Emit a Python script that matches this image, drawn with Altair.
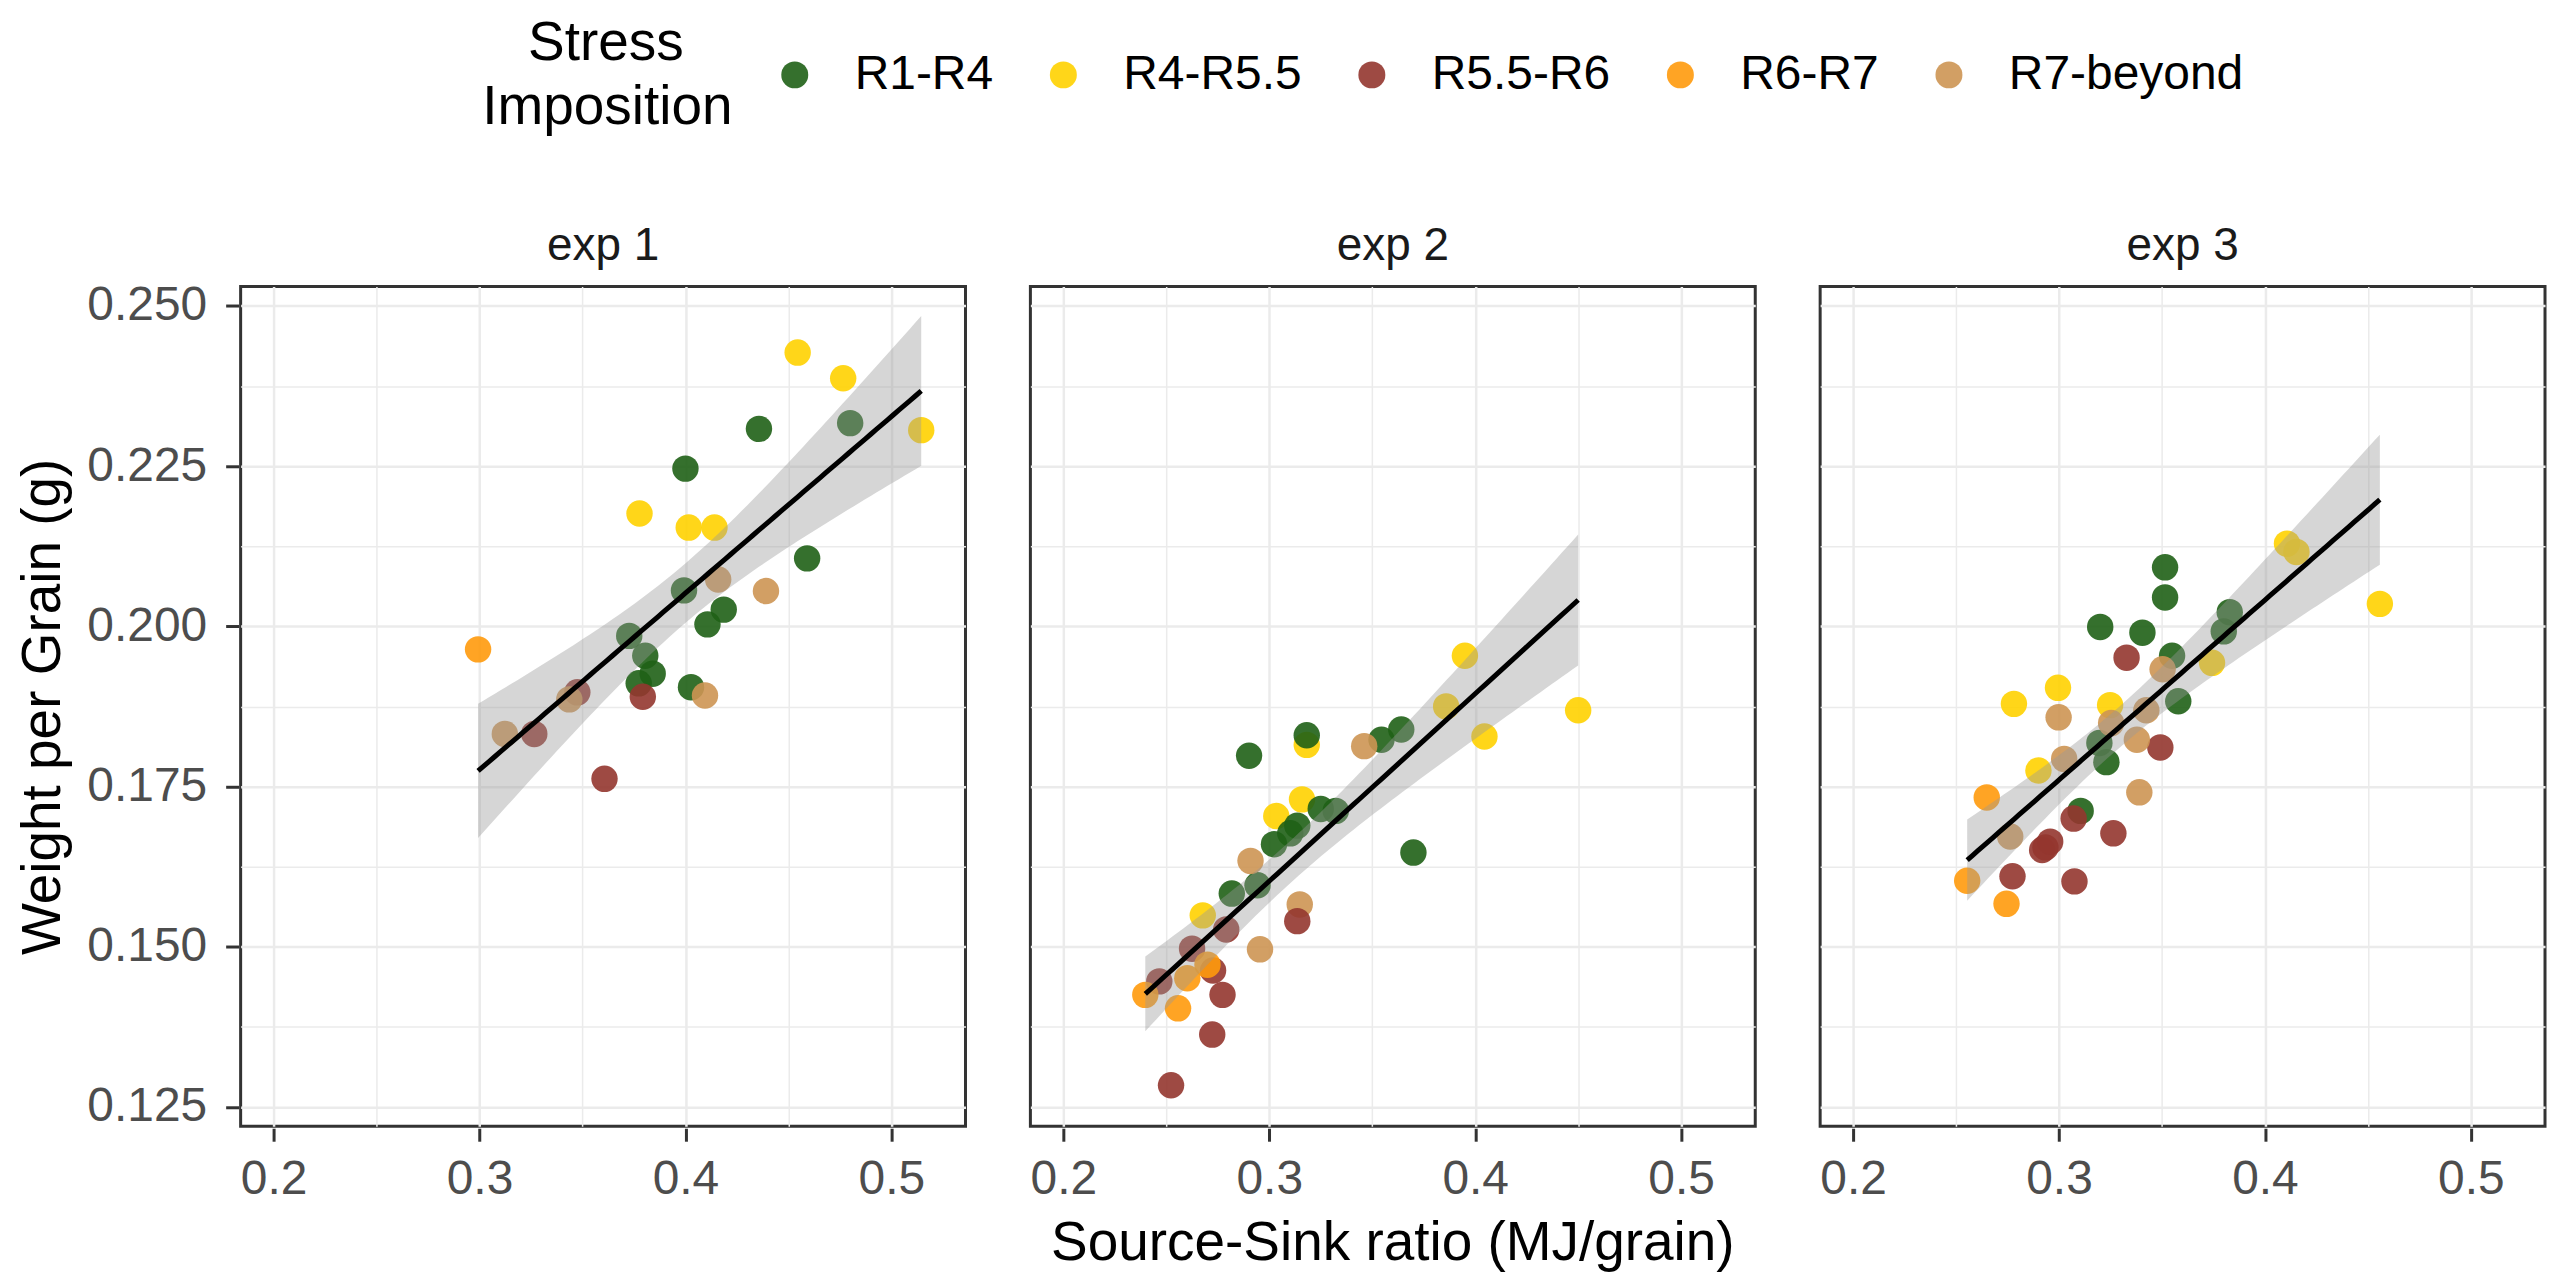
import math
import numpy as np
import pandas as pd
import altair as alt

STAGES = ["R1-R4", "R4-R5.5", "R5.5-R6", "R6-R7", "R7-beyond"]
COLORS = ["#1F6116", "#FFD200", "#93362F", "#FF9A0C", "#CD9553"]
EXPS = ["exp 1", "exp 2", "exp 3"]
X_TICKS = [0.2, 0.25, 0.3, 0.35, 0.4, 0.45, 0.5]
Y_TICKS = [0.125, 0.1375, 0.15, 0.1625, 0.175, 0.1875, 0.2, 0.2125, 0.225, 0.2375, 0.25]
# first line indented so the two title lines appear centred on each other
LEGEND_TITLE = ["\u200b\u00a0\u00a0\u00a0Stress", "Imposition"]

# ---- exp 1 ----
exp1_stage = (["R4-R5.5"] * 6 + ["R1-R4"] * 12 + ["R5.5-R6"] * 4 +
              ["R7-beyond"] * 5 + ["R6-R7"] * 1)
exp1_x = [0.4545, 0.4766, 0.5145, 0.3777, 0.4016, 0.4141,
          0.4357, 0.4000, 0.4800, 0.4591, 0.3993, 0.4186, 0.4107, 0.3727, 0.3805, 0.3841, 0.3773, 0.4027,
          0.3793, 0.3607, 0.3266, 0.3475,
          0.4159, 0.4391, 0.4095, 0.3123, 0.3436,
          0.2993]
exp1_y = [0.2427, 0.2387, 0.2306, 0.2176, 0.2154, 0.2154,
          0.2308, 0.2246, 0.2317, 0.2106, 0.2056, 0.2026, 0.2003, 0.1985, 0.1954, 0.1926, 0.1911, 0.1905,
          0.1890, 0.1762, 0.1832, 0.1897,
          0.2073, 0.2055, 0.1892, 0.1832, 0.1886,
          0.1964]

# ---- exp 2 ----
exp2_stage = (["R4-R5.5"] * 8 + ["R1-R4"] * 12 + ["R7-beyond"] * 4 +
              ["R5.5-R6"] * 8 + ["R6-R7"] * 4)
exp2_x = [0.3950, 0.4500, 0.4045, 0.3859, 0.3182, 0.3159, 0.3034, 0.2677,
          0.2902, 0.3545, 0.3641, 0.3700, 0.3182, 0.3136, 0.3102, 0.3023, 0.3250, 0.3323, 0.2818, 0.2943,
          0.3461, 0.2909, 0.3148, 0.2955,
          0.3136, 0.2791, 0.2625, 0.2727, 0.2773, 0.2723, 0.2523, 0.2466,
          0.2700, 0.2602, 0.2398, 0.2557]
exp2_y = [0.1954, 0.1869, 0.1828, 0.1875, 0.1815, 0.1730, 0.1704, 0.1549,
          0.1798, 0.1823, 0.1839, 0.1647, 0.1830, 0.1689, 0.1677, 0.1660, 0.1715, 0.1712, 0.1583, 0.1596,
          0.1813, 0.1634, 0.1566, 0.1496,
          0.1540, 0.1527, 0.1497, 0.1463, 0.1425, 0.1363, 0.1284, 0.1446,
          0.1472, 0.1451, 0.1425, 0.1404]

# ---- exp 3 ----
exp3_stage = (["R4-R5.5"] * 8 + ["R1-R4"] * 11 + ["R5.5-R6"] * 9 +
              ["R7-beyond"] * 8 + ["R6-R7"] * 3)
exp3_x = [0.4107, 0.4153, 0.4558, 0.3743, 0.2995, 0.2781, 0.3248, 0.2900,
          0.3515, 0.3515, 0.3200, 0.3405, 0.3829, 0.3800, 0.3549, 0.3579, 0.3230, 0.3196, 0.3105,
          0.3328, 0.3492, 0.3071, 0.3264, 0.2934, 0.2918, 0.2957, 0.2774, 0.3075,
          0.3503, 0.2998, 0.3253, 0.3424, 0.3378, 0.3025, 0.3390, 0.2763,
          0.2649, 0.2554, 0.2745]
exp3_y = [0.2129, 0.2116, 0.2035, 0.1943, 0.1904, 0.1879, 0.1877, 0.1775,
          0.2092, 0.2045, 0.1999, 0.1990, 0.2022, 0.1992, 0.1954, 0.1883, 0.1788, 0.1818, 0.1712,
          0.1951, 0.1811, 0.1700, 0.1677, 0.1655, 0.1651, 0.1664, 0.1610, 0.1602,
          0.1933, 0.1858, 0.1849, 0.1869, 0.1823, 0.1793, 0.1741, 0.1672,
          0.1733, 0.1603, 0.1567]

SERIES = {"exp 1": (exp1_x, exp1_y, exp1_stage),
          "exp 2": (exp2_x, exp2_y, exp2_stage),
          "exp 3": (exp3_x, exp3_y, exp3_stage)}


def t975(dof):
    c = math.exp(math.lgamma((dof + 1) / 2) - math.lgamma(dof / 2)) / math.sqrt(dof * math.pi)
    ts = np.linspace(0, 8, 80001)
    pdf = c * (1 + ts ** 2 / dof) ** (-(dof + 1) / 2)
    cdf = np.concatenate([[0.0], np.cumsum((pdf[1:] + pdf[:-1]) / 2 * np.diff(ts))])
    return float(np.interp(0.475, cdf, ts))


rows = []
for exp in EXPS:
    xs, ys, st = SERIES[exp]
    for a, b, s in zip(xs, ys, st):
        rows.append({"exp": exp, "kind": "pt", "x": a, "y": b, "stage": s})
    xa = np.array(xs)
    ya = np.array(ys)
    n = len(xa)
    slope, icpt = np.polyfit(xa, ya, 1)
    resid = ya - (icpt + slope * xa)
    sd = math.sqrt(float(np.sum(resid ** 2)) / (n - 2))
    xbar = float(xa.mean())
    sxx = float(np.sum((xa - xbar) ** 2))
    tq = t975(n - 2)
    for g in np.linspace(xa.min(), xa.max(), 80):
        f = icpt + slope * g
        se = sd * math.sqrt(1.0 / n + (g - xbar) ** 2 / sxx)
        rows.append({"exp": exp, "kind": "fit", "x": float(g), "fit": float(f),
                     "lo": float(f - tq * se), "hi": float(f + tq * se)})
df = pd.DataFrame(rows)

FONT = "Liberation Sans"
SMALL = 48
STRIP = 46
BIG = 55

XMAJ = "abs(datum.value*10 - round(datum.value*10)) < 0.001"
YMAJ = "abs(datum.value*40 - round(datum.value*40)) < 0.001"

x_axis = alt.Axis(
    values=X_TICKS,
    labelExpr=XMAJ + " ? format(datum.value, '.1f') : ''",
    tickOpacity={"condition": {"test": XMAJ, "value": 1}, "value": 0},
    gridWidth={"condition": {"test": XMAJ, "value": 2.5}, "value": 1.5},
    gridColor="#EBEBEB", domain=False, tickColor="#333333", tickWidth=3, tickSize=13,
    labelFontSize=SMALL, labelColor="#4D4D4D", labelFont=FONT, labelPadding=14,
    labelFlush=False, labelOverlap=False, title=None,
)
y_axis = alt.Axis(
    values=Y_TICKS,
    labelExpr=YMAJ + " ? format(datum.value, '.3f') : ''",
    tickOpacity={"condition": {"test": YMAJ, "value": 1}, "value": 0},
    gridWidth={"condition": {"test": YMAJ, "value": 2.5}, "value": 1.5},
    gridColor="#EBEBEB", domain=False, tickColor="#333333", tickWidth=3, tickSize=13,
    labelFontSize=SMALL, labelColor="#4D4D4D", labelFont=FONT, labelPadding=19,
    labelFlush=False, labelOverlap=False,
    title="Weight per Grain (g)", titleFontSize=BIG, titleFont=FONT, titleFontWeight="normal",
    titleColor="black", titlePadding=15,
)
xs = alt.Scale(domain=[0.184, 0.536], nice=False, zero=False)
ysc = alt.Scale(domain=[0.122, 0.253], nice=False, zero=False)

pts = alt.Chart().transform_filter(alt.datum.kind == "pt").mark_circle(
    size=700, opacity=0.9
).encode(
    x=alt.X("x:Q", scale=xs, axis=x_axis),
    y=alt.Y("y:Q", scale=ysc, axis=y_axis),
    color=alt.Color("stage:N", scale=alt.Scale(domain=STAGES, range=COLORS),
                    legend=alt.Legend(
                        title=LEGEND_TITLE, orient="none", legendX=242, legendY=-236,
                        direction="horizontal", titleOrient="left", titleAlign="left",
                        titleAnchor="middle", titleBaseline="middle",
                        titleFontSize=BIG, titleFont=FONT, titleFontWeight="normal",
                        titleColor="black", titleLineHeight=64, titlePadding=38, titleLimit=0,
                        labelFontSize=SMALL, labelFont=FONT, labelColor="black", labelLimit=0,
                        symbolSize=729, symbolType="circle", symbolOpacity=0.9,
                        symbolStrokeWidth=0, labelOffset=36, columnPadding=46)),
)
band = alt.Chart().transform_filter(alt.datum.kind == "fit").mark_area(
    color="#999999", opacity=0.4
).encode(
    x=alt.X("x:Q", scale=xs, axis=x_axis),
    y=alt.Y("lo:Q", scale=ysc, axis=y_axis),
    y2="hi:Q",
)
line = alt.Chart().transform_filter(alt.datum.kind == "fit").mark_line(
    color="black", strokeWidth=5
).encode(
    x=alt.X("x:Q", scale=xs, axis=x_axis),
    y=alt.Y("fit:Q", scale=ysc, axis=y_axis),
)

chart = alt.layer(pts, band, line, data=df).properties(width=726, height=841).facet(
    column=alt.Column("exp:N", sort=EXPS, header=alt.Header(
        title="Source-Sink ratio (MJ/grain)", titleOrient="bottom", labelOrient="top",
        titleFontSize=BIG, titleFont=FONT, titleFontWeight="normal", titleColor="black",
        titlePadding=4, labelFontSize=STRIP, labelFont=FONT, labelColor="#1A1A1A",
        labelPadding=15)),
    spacing=61,
).configure_view(stroke="#333333", strokeWidth=3).properties(
    background="white", padding={"left": 7, "top": 42, "right": 5, "bottom": 5}
)

chart.save("out.html", embed_options={"renderer": "svg", "actions": False})
